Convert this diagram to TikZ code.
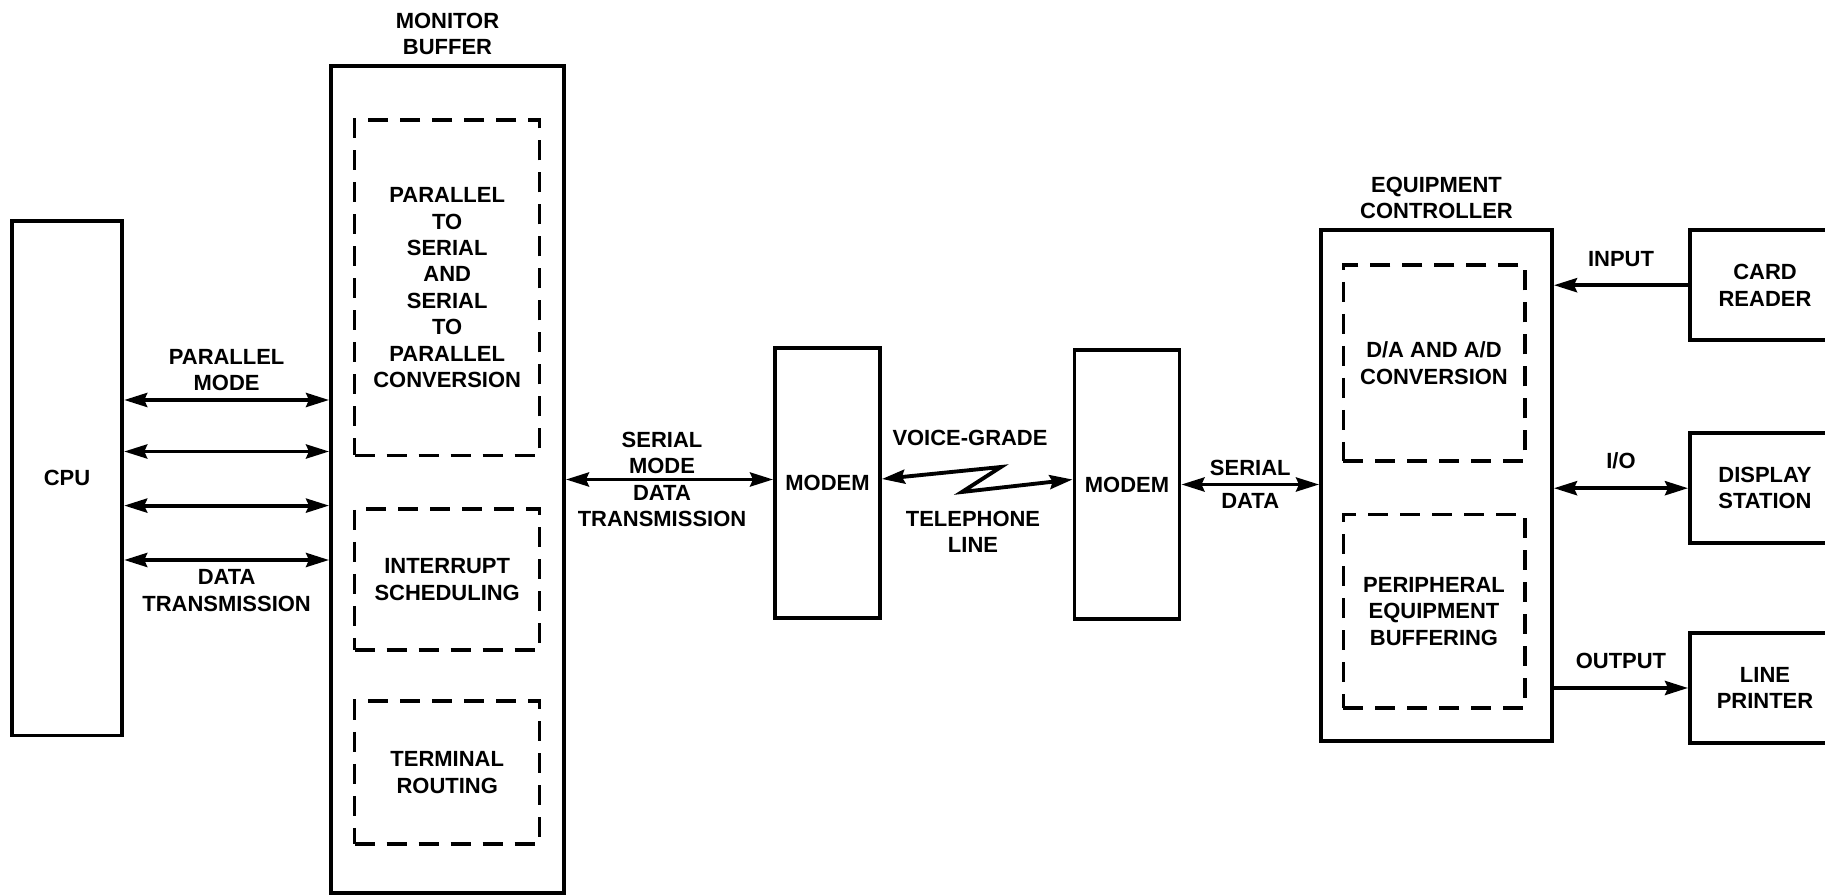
\documentclass[tikz,border=0pt]{standalone}
\usepackage{fontspec}
\setmainfont{Liberation Sans}
\usetikzlibrary{positioning,calc,arrows.meta}
\tikzset{
  block/.style={draw,line width=2.2pt,inner sep=0pt,align=center},
  inner block/.style={draw,line width=2pt,dash pattern=on 4mm off 2.4mm,
    inner sep=0pt,align=center},
  block label/.style={align=center,inner sep=2pt},
  wire label/.style={align=center,inner sep=4pt},
  link/.style={line width=2.2pt,>={Stealth[length=4.6mm,width=2.8mm,inset=0.6mm]}}
}

\begin{document}
\begin{tikzpicture}[font=\fontsize{12.5}{15}\selectfont\bfseries,node distance=1mm]
  \clip (0,0) rectangle (36.5,17.92);
  % host and monitor buffer
  \node[block,minimum width=2.21cm,minimum height=10.29cm] (cpu) at (1.34,8.354) {CPU};
  \node[block,minimum width=4.66cm,minimum height=16.54cm] (monitor) at (8.95,8.33) {};
  \node[block label,above=of monitor] (monitor title) {MONITOR\\BUFFER};
  \node[inner block,minimum width=3.7cm,minimum height=6.71cm] (conversion) at (8.944,12.166)
    {PARALLEL\\TO\\SERIAL\\AND\\SERIAL\\TO\\PARALLEL\\CONVERSION};
  \node[inner block,minimum width=3.7cm,minimum height=2.82cm,below=1cm of conversion] (interrupt)
    {INTERRUPT\\SCHEDULING};
  \node[inner block,minimum width=3.7cm,minimum height=2.86cm,below=.95cm of interrupt] (routing)
    {TERMINAL\\ROUTING};
  \foreach \dy [count=\i] in {1.566,0.536,-0.546,-1.634} {
    \path ([yshift=\dy cm]cpu.east) coordinate (par\i);
    \draw[link,<->] (par\i) -- (par\i -| monitor.west);
  }
  \node[block label,anchor=south] (parallel) at ($(par1)!.5!(par1 -| monitor.west)+(0,.1)$) {PARALLEL\\MODE};
  \node[block label,anchor=north] (transmission) at ($(par4)!.5!(par4 -| monitor.west)+(0,-.12)$) {DATA\\TRANSMISSION};
  % modems
  \node[block,minimum width=2.1cm,minimum height=5.39cm] (modem a) at (16.55,8.26) {MODEM};
  \node[block,minimum width=2.1cm,minimum height=5.38cm] (modem b) at (22.54,8.23) {MODEM};
  \draw[link,<->] (monitor.east) -- (monitor.east -| modem a.west);
  \node[block label] (serial mode) at (13.24,8.33) {SERIAL\\MODE\\DATA\\TRANSMISSION};
  \draw[link,<->] ([yshift=.08cm]modem a.east) -- ++(2.38,0.24) -- ++(-0.78,-0.5)
    -- ([yshift=.1cm]modem b.west);
  \node[block label] (voice) at (19.4,9.16) {VOICE-GRADE};
  \node[block label] (phone) at (19.46,7.28) {TELEPHONE\\LINE};
  % equipment controller
  \node[block,minimum width=4.62cm,minimum height=10.22cm] (ctrl) at (28.73,8.21) {};
  \node[block label,above=of ctrl] (ctrl title) {EQUIPMENT\\CONTROLLER};
  \node[inner block,minimum width=3.63cm,minimum height=3.92cm] (da) at (28.68,10.66)
    {D/A AND A/D\\CONVERSION};
  \node[inner block,minimum width=3.63cm,minimum height=3.87cm,below=1cm of da] (buffering)
    {PERIPHERAL\\EQUIPMENT\\BUFFERING};
  \draw[link,<->] (modem b.east) -- node[wire label,above]{SERIAL} node[wire label,below]{DATA}
    (modem b.east -| ctrl.west);
  % peripherals
  \node[block,minimum width=3cm,minimum height=2.2cm] (card) at (35.3,12.216) {CARD\\READER};
  \node[block,minimum width=3cm,minimum height=2.2cm] (display) at (35.3,8.156) {DISPLAY\\STATION};
  \node[block,minimum width=3cm,minimum height=2.2cm] (printer) at (35.3,4.16) {LINE\\PRINTER};
  \draw[link,->] (card.west) -- node[wire label,above=2mm]{INPUT} (card.west -| ctrl.east);
  \draw[link,<->] (ctrl.east |- display) -- node[wire label,above=2mm]{I/O} (display.west);
  \draw[link,->] (ctrl.east |- printer) -- node[wire label,above=2mm]{OUTPUT} (printer.west);
\end{tikzpicture}
\end{document}
